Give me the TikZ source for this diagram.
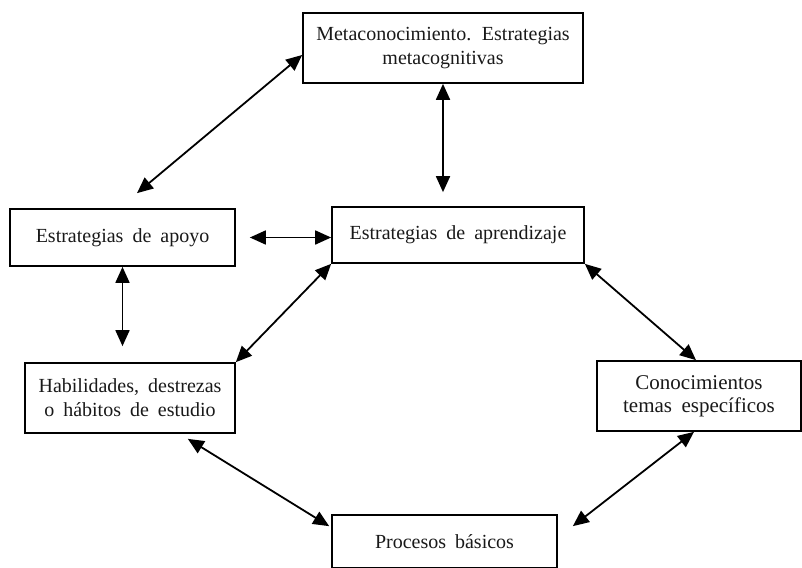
\documentclass[tikz,border=0pt]{standalone}
\usepackage{fontspec}
\setmainfont{Liberation Serif}[WordSpace=1.8]
\usetikzlibrary{arrows.meta}
\begin{document}
\begin{tikzpicture}[x=1pt,y=-1pt,
  box/.style={draw=black, line width=1.7pt, inner sep=0pt, align=center,
    font={\fontsize{20}{24}\selectfont}, text=black!90},
  conn/.style={line width=1.8pt, {Triangle[length=16pt,width=14pt]}-{Triangle[length=16pt,width=14pt]}}]
\useasboundingbox (0,0) rectangle (802,567);
\clip (0,0) rectangle (802,567);
\node[box, minimum width=280pt, minimum height=70pt] (meta) at (443,48) {Metaconocimiento. Estrategias\\metacognitivas};
\node[box, minimum width=252pt, minimum height=56pt] (apren) at (458,235) {Estrategias de aprendizaje};
\node[box, minimum width=225pt, minimum height=57pt] (apoyo) at (122.5,237.5) {Estrategias de apoyo};
\node[box, minimum width=210pt, minimum height=70pt] (habil) at (130,398) {Habilidades, destrezas\\o hábitos de estudio};
\node[box, minimum width=204pt, minimum height=70pt, font={\fontsize{21}{23}\selectfont}] (conoc) at (699,396) {Conocimientos\\temas específicos};
\node[box, minimum width=225pt, minimum height=53pt] (proc) at (444.5,541.5) {Procesos básicos};
% connectors
\draw[conn] (meta.south) -- ([yshift=14pt]meta.south |- apren.north);
\draw[conn] ([xshift=14.5pt,yshift=15pt]apoyo.north) -- ([yshift=-7pt]meta.west);
\draw[conn] ([xshift=14pt]apoyo.east) -- (apren.west |- apoyo.east);
\draw[conn] (apoyo.south) -- ([yshift=16pt]apoyo.south |- habil.north);
\draw[conn] (apren.south west) -- (habil.north east);
\draw[conn] (apren.south east) -- ([xshift=-3pt]conoc.north);
\draw[conn] ([xshift=-5pt]conoc.south) -- ([xshift=15pt,yshift=-12pt]proc.north east);
\draw[conn] ([xshift=-48pt,yshift=-5pt]habil.south east) -- ([xshift=-2pt,yshift=-12pt]proc.north west);
\end{tikzpicture}
\end{document}
